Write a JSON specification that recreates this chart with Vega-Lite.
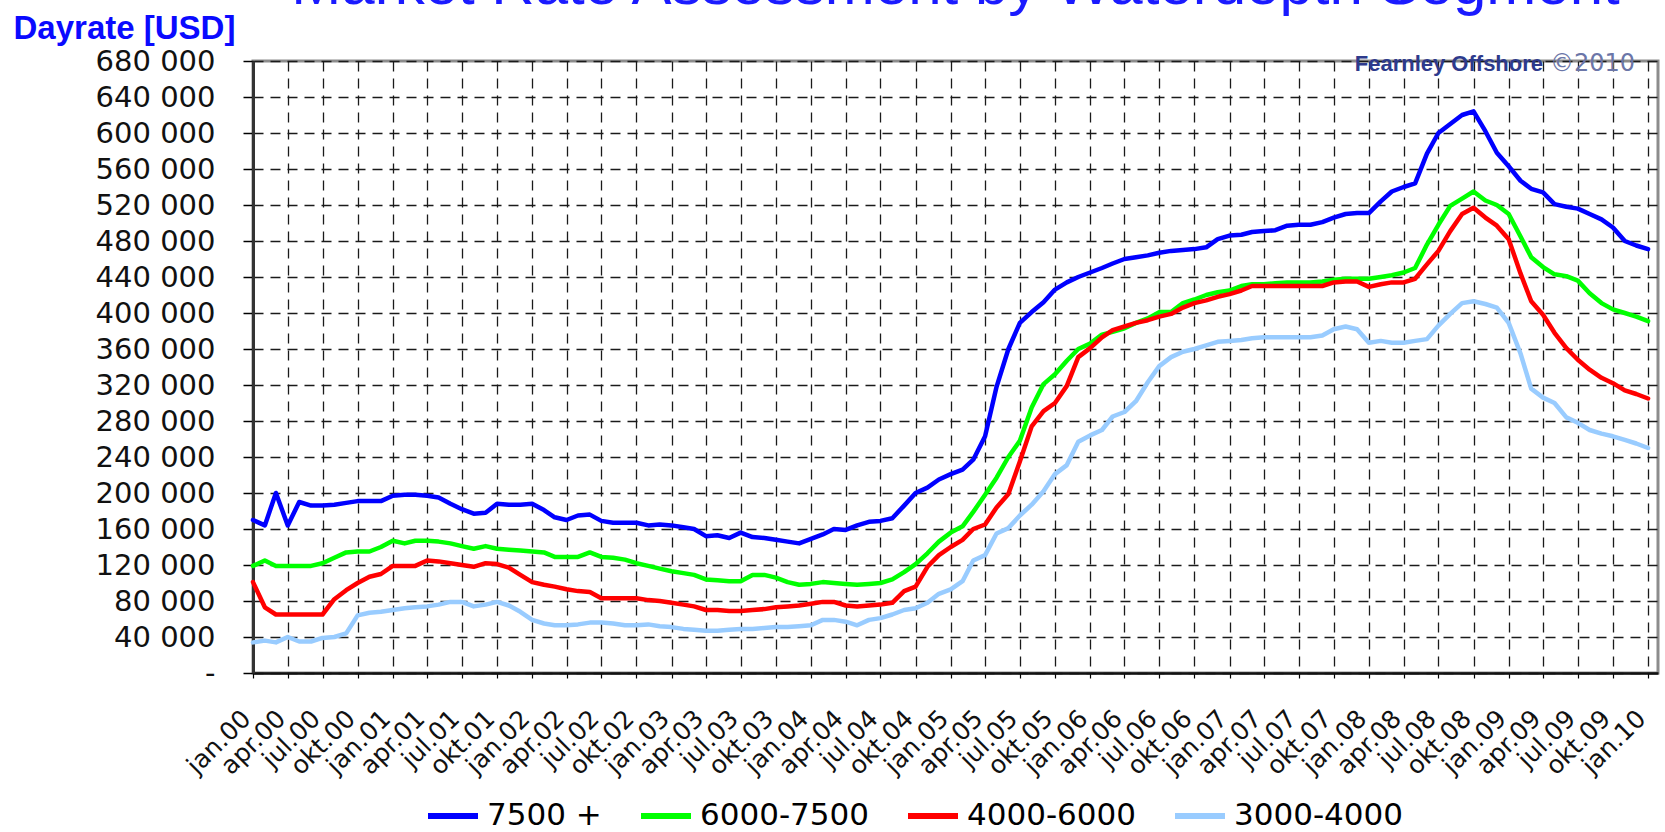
{
  "$schema": "https://vega.github.io/schema/vega-lite/v6.json",
  "width": 1405,
  "height": 612,
  "autosize": {"type": "none"},
  "padding": {"left": 253, "top": 61, "right": 7, "bottom": 159},
  "background": "white",
  "title": {
    "text": "Market Rate Assessment by Waterdepth Segment",
    "font": "Liberation Sans",
    "fontSize": 60,
    "fontWeight": "normal",
    "color": "#1a1aff",
    "anchor": "middle",
    "frame": "group",
    "baseline": "alphabetic",
    "offset": -52
  },
  "config": {
    "view": {"stroke": "#8c8c8c", "strokeWidth": 3},
    "axis": {"gridDash": [10, 7], "gridColor": "#1a1a1a", "gridWidth": 1.3, "gridOpacity": 1},
    "axisX": {
      "title": null,
      "tickCount": {"interval": "month", "step": 3},
      "labelExpr": "['jan','feb','mar','apr','mai','jun','jul','aug','sep','okt','nov','des'][utcmonth(datum.value)] + '.' + utcFormat(datum.value, '%y')",
      "labelAngle": -45,
      "labelAlign": "right",
      "labelBaseline": "middle",
      "labelFont": "DejaVu Sans",
      "labelFontSize": 25,
      "labelColor": "#111111",
      "labelPadding": 36,
      "labelOffset": -7,
      "labelOverlap": false,
      "labelFlush": false,
      "labelBound": false,
      "tickSize": 5,
      "tickColor": "#000000",
      "tickWidth": 1.2,
      "domainColor": "#111111",
      "domainWidth": 2.5,
      "grid": true
    },
    "axisY": {
      "labelExpr": "datum.value == 0 ? '-\u00a0\u00a0\u00a0\u00a0' : replace(format(datum.value, ','), ',', ' ')",
      "labelFont": "DejaVu Sans",
      "labelFontSize": 29,
      "labelColor": "#111111",
      "labelPadding": 28,
      "labelBaseline": "middle",
      "labelOverlap": false,
      "labelFlush": false,
      "tickSize": 10,
      "tickColor": "#000000",
      "tickWidth": 1.5,
      "domainColor": "#333333",
      "domainWidth": 3,
      "grid": true,
      "titleAngle": 0,
      "titleAlign": "left",
      "titleBaseline": "alphabetic",
      "titleX": -240,
      "titleY": -23,
      "titleFont": "Liberation Sans",
      "titleFontSize": 33,
      "titleFontWeight": "bold",
      "titleColor": "#0a0aff"
    }
  },
  "resolve": {"axis": {"x": "independent", "y": "independent"}},
  "layer": [
    {
      "data": {
        "values": [
          {"m": "2000-01-01", "7500 +": 170000, "6000-7500": 119000, "4000-6000": 101000, "3000-4000": 34000},
          {"m": "2000-02-01", "7500 +": 164000, "6000-7500": 125000, "4000-6000": 73000, "3000-4000": 36000},
          {"m": "2000-03-01", "7500 +": 200000, "6000-7500": 119000, "4000-6000": 65000, "3000-4000": 34000},
          {"m": "2000-04-01", "7500 +": 164000, "6000-7500": 119000, "4000-6000": 65000, "3000-4000": 40000},
          {"m": "2000-05-01", "7500 +": 190000, "6000-7500": 119000, "4000-6000": 65000, "3000-4000": 35000},
          {"m": "2000-06-01", "7500 +": 186000, "6000-7500": 119000, "4000-6000": 65000, "3000-4000": 35000},
          {"m": "2000-07-01", "7500 +": 186000, "6000-7500": 122000, "4000-6000": 65000, "3000-4000": 39000},
          {"m": "2000-08-01", "7500 +": 187000, "6000-7500": 128000, "4000-6000": 82000, "3000-4000": 40000},
          {"m": "2000-09-01", "7500 +": 189000, "6000-7500": 134000, "4000-6000": 92000, "3000-4000": 44000},
          {"m": "2000-10-01", "7500 +": 191000, "6000-7500": 135000, "4000-6000": 100000, "3000-4000": 64000},
          {"m": "2000-11-01", "7500 +": 191000, "6000-7500": 135000, "4000-6000": 107000, "3000-4000": 67000},
          {"m": "2000-12-01", "7500 +": 191000, "6000-7500": 140000, "4000-6000": 110000, "3000-4000": 68000},
          {"m": "2001-01-01", "7500 +": 197000, "6000-7500": 147000, "4000-6000": 119000, "3000-4000": 70000},
          {"m": "2001-02-01", "7500 +": 198000, "6000-7500": 144000, "4000-6000": 119000, "3000-4000": 72000},
          {"m": "2001-03-01", "7500 +": 198000, "6000-7500": 147000, "4000-6000": 119000, "3000-4000": 73000},
          {"m": "2001-04-01", "7500 +": 197000, "6000-7500": 147000, "4000-6000": 125000, "3000-4000": 74000},
          {"m": "2001-05-01", "7500 +": 195000, "6000-7500": 146000, "4000-6000": 124000, "3000-4000": 76000},
          {"m": "2001-06-01", "7500 +": 188000, "6000-7500": 144000, "4000-6000": 122000, "3000-4000": 79000},
          {"m": "2001-07-01", "7500 +": 182000, "6000-7500": 141000, "4000-6000": 120000, "3000-4000": 79000},
          {"m": "2001-08-01", "7500 +": 177000, "6000-7500": 138000, "4000-6000": 118000, "3000-4000": 74000},
          {"m": "2001-09-01", "7500 +": 178000, "6000-7500": 141000, "4000-6000": 122000, "3000-4000": 76000},
          {"m": "2001-10-01", "7500 +": 188000, "6000-7500": 138000, "4000-6000": 121000, "3000-4000": 79000},
          {"m": "2001-11-01", "7500 +": 187000, "6000-7500": 137000, "4000-6000": 117000, "3000-4000": 75000},
          {"m": "2001-12-01", "7500 +": 187000, "6000-7500": 136000, "4000-6000": 109000, "3000-4000": 68000},
          {"m": "2002-01-01", "7500 +": 188000, "6000-7500": 135000, "4000-6000": 101000, "3000-4000": 59000},
          {"m": "2002-02-01", "7500 +": 181000, "6000-7500": 134000, "4000-6000": 98000, "3000-4000": 55000},
          {"m": "2002-03-01", "7500 +": 173000, "6000-7500": 129000, "4000-6000": 96000, "3000-4000": 53000},
          {"m": "2002-04-01", "7500 +": 170000, "6000-7500": 129000, "4000-6000": 93000, "3000-4000": 53000},
          {"m": "2002-05-01", "7500 +": 175000, "6000-7500": 129000, "4000-6000": 91000, "3000-4000": 54000},
          {"m": "2002-06-01", "7500 +": 176000, "6000-7500": 134000, "4000-6000": 90000, "3000-4000": 56000},
          {"m": "2002-07-01", "7500 +": 169000, "6000-7500": 129000, "4000-6000": 83000, "3000-4000": 56000},
          {"m": "2002-08-01", "7500 +": 167000, "6000-7500": 128000, "4000-6000": 83000, "3000-4000": 55000},
          {"m": "2002-09-01", "7500 +": 167000, "6000-7500": 126000, "4000-6000": 83000, "3000-4000": 53000},
          {"m": "2002-10-01", "7500 +": 167000, "6000-7500": 122000, "4000-6000": 83000, "3000-4000": 53000},
          {"m": "2002-11-01", "7500 +": 164000, "6000-7500": 119000, "4000-6000": 81000, "3000-4000": 54000},
          {"m": "2002-12-01", "7500 +": 165000, "6000-7500": 116000, "4000-6000": 80000, "3000-4000": 52000},
          {"m": "2003-01-01", "7500 +": 164000, "6000-7500": 113000, "4000-6000": 78000, "3000-4000": 51000},
          {"m": "2003-02-01", "7500 +": 162000, "6000-7500": 111000, "4000-6000": 76000, "3000-4000": 49000},
          {"m": "2003-03-01", "7500 +": 160000, "6000-7500": 109000, "4000-6000": 74000, "3000-4000": 48000},
          {"m": "2003-04-01", "7500 +": 152000, "6000-7500": 104000, "4000-6000": 70000, "3000-4000": 47000},
          {"m": "2003-05-01", "7500 +": 153000, "6000-7500": 103000, "4000-6000": 70000, "3000-4000": 47000},
          {"m": "2003-06-01", "7500 +": 150000, "6000-7500": 102000, "4000-6000": 69000, "3000-4000": 48000},
          {"m": "2003-07-01", "7500 +": 156000, "6000-7500": 102000, "4000-6000": 69000, "3000-4000": 49000},
          {"m": "2003-08-01", "7500 +": 151000, "6000-7500": 109000, "4000-6000": 70000, "3000-4000": 49000},
          {"m": "2003-09-01", "7500 +": 150000, "6000-7500": 109000, "4000-6000": 71000, "3000-4000": 50000},
          {"m": "2003-10-01", "7500 +": 148000, "6000-7500": 106000, "4000-6000": 73000, "3000-4000": 51000},
          {"m": "2003-11-01", "7500 +": 146000, "6000-7500": 101000, "4000-6000": 74000, "3000-4000": 51000},
          {"m": "2003-12-01", "7500 +": 144000, "6000-7500": 98000, "4000-6000": 75000, "3000-4000": 52000},
          {"m": "2004-01-01", "7500 +": 149000, "6000-7500": 99000, "4000-6000": 77000, "3000-4000": 53000},
          {"m": "2004-02-01", "7500 +": 154000, "6000-7500": 101000, "4000-6000": 79000, "3000-4000": 59000},
          {"m": "2004-03-01", "7500 +": 160000, "6000-7500": 100000, "4000-6000": 79000, "3000-4000": 59000},
          {"m": "2004-04-01", "7500 +": 159000, "6000-7500": 99000, "4000-6000": 75000, "3000-4000": 57000},
          {"m": "2004-05-01", "7500 +": 164000, "6000-7500": 98000, "4000-6000": 74000, "3000-4000": 53000},
          {"m": "2004-06-01", "7500 +": 168000, "6000-7500": 99000, "4000-6000": 75000, "3000-4000": 59000},
          {"m": "2004-07-01", "7500 +": 169000, "6000-7500": 100000, "4000-6000": 76000, "3000-4000": 61000},
          {"m": "2004-08-01", "7500 +": 172000, "6000-7500": 104000, "4000-6000": 78000, "3000-4000": 65000},
          {"m": "2004-09-01", "7500 +": 186000, "6000-7500": 112000, "4000-6000": 91000, "3000-4000": 70000},
          {"m": "2004-10-01", "7500 +": 200000, "6000-7500": 121000, "4000-6000": 96000, "3000-4000": 72000},
          {"m": "2004-11-01", "7500 +": 206000, "6000-7500": 133000, "4000-6000": 118000, "3000-4000": 78000},
          {"m": "2004-12-01", "7500 +": 215000, "6000-7500": 146000, "4000-6000": 131000, "3000-4000": 88000},
          {"m": "2005-01-01", "7500 +": 221000, "6000-7500": 156000, "4000-6000": 140000, "3000-4000": 93000},
          {"m": "2005-02-01", "7500 +": 226000, "6000-7500": 163000, "4000-6000": 148000, "3000-4000": 102000},
          {"m": "2005-03-01", "7500 +": 237000, "6000-7500": 179000, "4000-6000": 160000, "3000-4000": 125000},
          {"m": "2005-04-01", "7500 +": 263000, "6000-7500": 198000, "4000-6000": 165000, "3000-4000": 131000},
          {"m": "2005-05-01", "7500 +": 318000, "6000-7500": 217000, "4000-6000": 184000, "3000-4000": 155000},
          {"m": "2005-06-01", "7500 +": 360000, "6000-7500": 240000, "4000-6000": 199000, "3000-4000": 161000},
          {"m": "2005-07-01", "7500 +": 389000, "6000-7500": 258000, "4000-6000": 235000, "3000-4000": 175000},
          {"m": "2005-08-01", "7500 +": 401000, "6000-7500": 295000, "4000-6000": 274000, "3000-4000": 187000},
          {"m": "2005-09-01", "7500 +": 412000, "6000-7500": 321000, "4000-6000": 291000, "3000-4000": 202000},
          {"m": "2005-10-01", "7500 +": 426000, "6000-7500": 332000, "4000-6000": 300000, "3000-4000": 221000},
          {"m": "2005-11-01", "7500 +": 434000, "6000-7500": 347000, "4000-6000": 319000, "3000-4000": 231000},
          {"m": "2005-12-01", "7500 +": 440000, "6000-7500": 360000, "4000-6000": 351000, "3000-4000": 257000},
          {"m": "2006-01-01", "7500 +": 445000, "6000-7500": 366000, "4000-6000": 361000, "3000-4000": 264000},
          {"m": "2006-02-01", "7500 +": 450000, "6000-7500": 376000, "4000-6000": 373000, "3000-4000": 270000},
          {"m": "2006-03-01", "7500 +": 455000, "6000-7500": 379000, "4000-6000": 381000, "3000-4000": 285000},
          {"m": "2006-04-01", "7500 +": 460000, "6000-7500": 383000, "4000-6000": 385000, "3000-4000": 290000},
          {"m": "2006-05-01", "7500 +": 462000, "6000-7500": 389000, "4000-6000": 389000, "3000-4000": 302000},
          {"m": "2006-06-01", "7500 +": 464000, "6000-7500": 394000, "4000-6000": 392000, "3000-4000": 323000},
          {"m": "2006-07-01", "7500 +": 467000, "6000-7500": 401000, "4000-6000": 396000, "3000-4000": 341000},
          {"m": "2006-08-01", "7500 +": 469000, "6000-7500": 401000, "4000-6000": 399000, "3000-4000": 351000},
          {"m": "2006-09-01", "7500 +": 470000, "6000-7500": 411000, "4000-6000": 406000, "3000-4000": 357000},
          {"m": "2006-10-01", "7500 +": 471000, "6000-7500": 415000, "4000-6000": 411000, "3000-4000": 360000},
          {"m": "2006-11-01", "7500 +": 473000, "6000-7500": 420000, "4000-6000": 414000, "3000-4000": 364000},
          {"m": "2006-12-01", "7500 +": 482000, "6000-7500": 423000, "4000-6000": 418000, "3000-4000": 368000},
          {"m": "2007-01-01", "7500 +": 486000, "6000-7500": 425000, "4000-6000": 421000, "3000-4000": 369000},
          {"m": "2007-02-01", "7500 +": 487000, "6000-7500": 430000, "4000-6000": 425000, "3000-4000": 370000},
          {"m": "2007-03-01", "7500 +": 490000, "6000-7500": 432000, "4000-6000": 430000, "3000-4000": 372000},
          {"m": "2007-04-01", "7500 +": 491000, "6000-7500": 432000, "4000-6000": 430000, "3000-4000": 373000},
          {"m": "2007-05-01", "7500 +": 492000, "6000-7500": 433000, "4000-6000": 430000, "3000-4000": 373000},
          {"m": "2007-06-01", "7500 +": 497000, "6000-7500": 434000, "4000-6000": 430000, "3000-4000": 373000},
          {"m": "2007-07-01", "7500 +": 498000, "6000-7500": 434000, "4000-6000": 430000, "3000-4000": 373000},
          {"m": "2007-08-01", "7500 +": 498000, "6000-7500": 434000, "4000-6000": 430000, "3000-4000": 373000},
          {"m": "2007-09-01", "7500 +": 501000, "6000-7500": 435000, "4000-6000": 430000, "3000-4000": 375000},
          {"m": "2007-10-01", "7500 +": 506000, "6000-7500": 437000, "4000-6000": 434000, "3000-4000": 382000},
          {"m": "2007-11-01", "7500 +": 510000, "6000-7500": 438000, "4000-6000": 435000, "3000-4000": 385000},
          {"m": "2007-12-01", "7500 +": 511000, "6000-7500": 438000, "4000-6000": 435000, "3000-4000": 382000},
          {"m": "2008-01-01", "7500 +": 511000, "6000-7500": 438000, "4000-6000": 429000, "3000-4000": 367000},
          {"m": "2008-02-01", "7500 +": 524000, "6000-7500": 440000, "4000-6000": 432000, "3000-4000": 369000},
          {"m": "2008-03-01", "7500 +": 535000, "6000-7500": 442000, "4000-6000": 434000, "3000-4000": 367000},
          {"m": "2008-04-01", "7500 +": 540000, "6000-7500": 445000, "4000-6000": 434000, "3000-4000": 367000},
          {"m": "2008-05-01", "7500 +": 544000, "6000-7500": 450000, "4000-6000": 438000, "3000-4000": 369000},
          {"m": "2008-06-01", "7500 +": 577000, "6000-7500": 476000, "4000-6000": 454000, "3000-4000": 371000},
          {"m": "2008-07-01", "7500 +": 600000, "6000-7500": 498000, "4000-6000": 469000, "3000-4000": 386000},
          {"m": "2008-08-01", "7500 +": 610000, "6000-7500": 519000, "4000-6000": 491000, "3000-4000": 399000},
          {"m": "2008-09-01", "7500 +": 620000, "6000-7500": 527000, "4000-6000": 510000, "3000-4000": 411000},
          {"m": "2008-10-01", "7500 +": 624000, "6000-7500": 535000, "4000-6000": 517000, "3000-4000": 413000},
          {"m": "2008-11-01", "7500 +": 602000, "6000-7500": 525000, "4000-6000": 506000, "3000-4000": 410000},
          {"m": "2008-12-01", "7500 +": 578000, "6000-7500": 520000, "4000-6000": 497000, "3000-4000": 406000},
          {"m": "2009-01-01", "7500 +": 563000, "6000-7500": 510000, "4000-6000": 482000, "3000-4000": 389000},
          {"m": "2009-02-01", "7500 +": 547000, "6000-7500": 485000, "4000-6000": 444000, "3000-4000": 355000},
          {"m": "2009-03-01", "7500 +": 538000, "6000-7500": 462000, "4000-6000": 413000, "3000-4000": 316000},
          {"m": "2009-04-01", "7500 +": 534000, "6000-7500": 451000, "4000-6000": 398000, "3000-4000": 306000},
          {"m": "2009-05-01", "7500 +": 521000, "6000-7500": 443000, "4000-6000": 378000, "3000-4000": 300000},
          {"m": "2009-06-01", "7500 +": 518000, "6000-7500": 441000, "4000-6000": 361000, "3000-4000": 284000},
          {"m": "2009-07-01", "7500 +": 516000, "6000-7500": 436000, "4000-6000": 348000, "3000-4000": 278000},
          {"m": "2009-08-01", "7500 +": 510000, "6000-7500": 422000, "4000-6000": 337000, "3000-4000": 270000},
          {"m": "2009-09-01", "7500 +": 504000, "6000-7500": 411000, "4000-6000": 328000, "3000-4000": 266000},
          {"m": "2009-10-01", "7500 +": 495000, "6000-7500": 404000, "4000-6000": 322000, "3000-4000": 263000},
          {"m": "2009-11-01", "7500 +": 480000, "6000-7500": 400000, "4000-6000": 314000, "3000-4000": 259000},
          {"m": "2009-12-01", "7500 +": 475000, "6000-7500": 396000, "4000-6000": 310000, "3000-4000": 255000},
          {"m": "2010-01-01", "7500 +": 471000, "6000-7500": 391000, "4000-6000": 305000, "3000-4000": 250000}
        ]
      },
      "transform": [
        {"fold": ["7500 +", "6000-7500", "4000-6000", "3000-4000"], "as": ["series", "rate"]}
      ],
      "mark": {"type": "line", "strokeWidth": 4.5, "strokeCap": "round", "strokeJoin": "round"},
      "encoding": {
        "x": {
          "field": "m",
          "type": "temporal",
          "title": null,
          "scale": {
            "type": "utc",
            "domain": [
              {"year": 2000, "month": 1, "date": 1, "utc": true},
              {"year": 2010, "month": 1, "date": 27, "utc": true}
            ]
          }
        },
        "y": {
          "field": "rate",
          "type": "quantitative",
          "title": "Dayrate [USD]",
          "scale": {"domain": [0, 680000], "nice": false, "zero": true},
          "axis": {
            "values": [0, 40000, 80000, 120000, 160000, 200000, 240000, 280000, 320000, 360000, 400000, 440000, 480000, 520000, 560000, 600000, 640000, 680000],
            "labelOverlap": false
          }
        },
        "color": {
          "field": "series",
          "type": "nominal",
          "scale": {
            "domain": ["7500 +", "6000-7500", "4000-6000", "3000-4000"],
            "range": ["#0000ff", "#00ff00", "#ff0000", "#99ccff"]
          },
          "legend": {
            "title": null,
            "orient": "none",
            "legendX": 172,
            "legendY": 727,
            "direction": "horizontal",
            "symbolType": "stroke",
            "symbolStrokeWidth": 6,
            "symbolSize": 2500,
            "labelFont": "DejaVu Sans",
            "labelFontSize": 31,
            "labelColor": "#000000",
            "labelOffset": 6,
            "labelLimit": 400,
            "columnPadding": 27,
            "padding": 0
          }
        }
      }
    },
    {
      "data": {"values": [{"t": "Fearnley Offshore"}]},
      "mark": {"type": "text", "font": "Liberation Sans", "fontWeight": "bold", "fontSize": 22, "color": "#2d3a8c", "align": "right", "baseline": "middle", "dy": 3},
      "encoding": {
        "x": {"datum": {"year": 2009, "month": 4, "date": 1, "utc": true}, "type": "temporal", "axis": null},
        "y": {"datum": 680000, "type": "quantitative", "axis": null},
        "text": {"field": "t"}
      }
    },
    {
      "data": {"values": [{"t": "©2010"}]},
      "mark": {"type": "text", "font": "DejaVu Sans", "fontSize": 24, "color": "#6b76a8", "align": "left", "baseline": "middle", "dy": 3},
      "encoding": {
        "x": {"datum": {"year": 2009, "month": 4, "date": 19, "utc": true}, "type": "temporal", "axis": null},
        "y": {"datum": 680000, "type": "quantitative", "axis": null},
        "text": {"field": "t"}
      }
    }
  ]
}
